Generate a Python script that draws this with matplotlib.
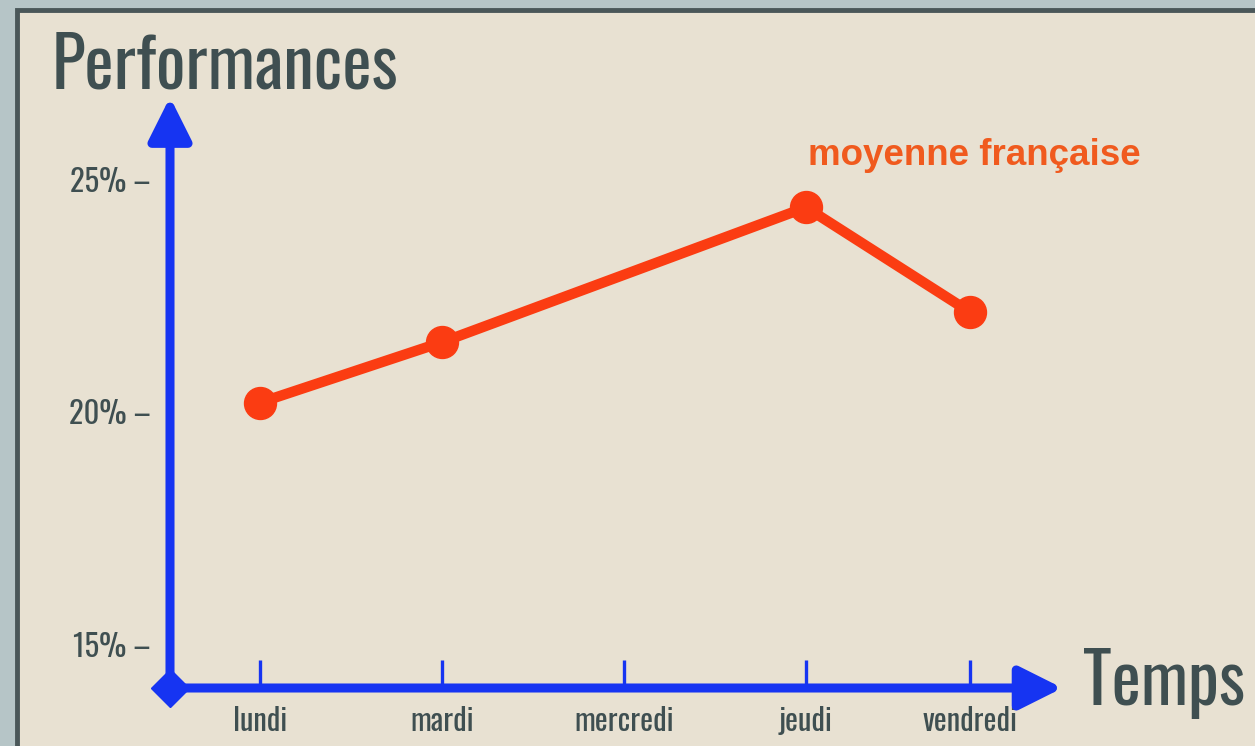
import matplotlib
matplotlib.use('Agg')
import matplotlib.pyplot as plt
from matplotlib.patches import Rectangle

# data
days = ['lundi', 'mardi', 'mercredi', 'jeudi', 'vendredi']
day_pos = [0, 1, 2, 3, 3.9]          # where each day sits on the time axis
shown = ['lundi', 'mardi', 'jeudi', 'vendredi']
moyenne = [20.2, 21.5, 24.4, 22.15]   # % moyenne française
yticks = [15, 20, 25]
ytick_labels = ['15% \u2013', '20% \u2013', '25% \u2013']

blue = '#1634f2'
red = '#fb3c12'
grey = '#3f4f51'
narrow = ['Oswald', 'Antonio', 'Archivo Narrow', 'DejaVu Sans']

W, H = 1255, 746
fig = plt.figure(figsize=(W / 100, H / 100), dpi=100, facecolor='#b6c5c7')

# beige board with dark frame
board = Rectangle((17 / W, -0.05), 1.0, (H - 10) / H + 0.05, transform=fig.transFigure,
                  facecolor='#e8e1d2', edgecolor='#4a5759', lw=3.5, zorder=-10)
fig.add_artist(board)

ax = fig.add_axes([170 / W, 58 / H, (1058 - 170) / W, (688 - 103) / H], zorder=2)
ax.set_facecolor('none')
for s in ax.spines.values():
    s.set_visible(False)

ax.set_xlim(-0.495, 4.385)
ax.set_ylim(14.06, 26.645)

# axes drawn as arrows
arrow = dict(arrowstyle='-|>,head_length=1.3,head_width=0.65', lw=6.5, color=blue,
             shrinkA=0, shrinkB=0, mutation_scale=20)
ax.annotate('', xy=(0, 1.01), xytext=(0, 0), xycoords='axes fraction', arrowprops=arrow)
ax.annotate('', xy=(1.005, 0), xytext=(0, 0), xycoords='axes fraction', arrowprops=arrow)
ax.plot([0], [0], marker='D', ms=19, color=blue, transform=ax.transAxes, clip_on=False)

ax.set_xticks(day_pos)
ax.set_xticklabels(days, family=narrow, fontsize=22, color=grey, fontweight='medium')
ax.tick_params(axis='x', direction='in', length=20, width=2.4, color=blue, pad=13)
ax.set_yticks(yticks)
ax.set_yticklabels(ytick_labels, family=narrow, fontsize=22, color=grey, fontweight='medium')
ax.tick_params(axis='y', length=0, pad=14)

xs = [day_pos[days.index(d)] for d in shown]
ax.plot(xs, moyenne, color=red, lw=7.5, marker='o', ms=23, solid_capstyle='round',
        clip_on=False, zorder=5)

ax.text(0.719, 0.91, 'moyenne fran\u00e7aise', transform=ax.transAxes, color='#f05a1e',
        fontsize=26.5, fontweight='bold', family=['Liberation Sans', 'Arimo', 'DejaVu Sans'],
        ha='left', va='center')

fig.text(52 / W, 1 - 67 / H, 'Performances', family=narrow, fontsize=50, color=grey,
         fontweight='medium', ha='left', va='center')
fig.text(1083 / W, 1 - 705 / H, 'Temps', family=narrow, fontsize=50, color=grey,
         fontweight='medium', ha='left', va='baseline')

fig.savefig('out.png', dpi=100, facecolor=fig.get_facecolor())
